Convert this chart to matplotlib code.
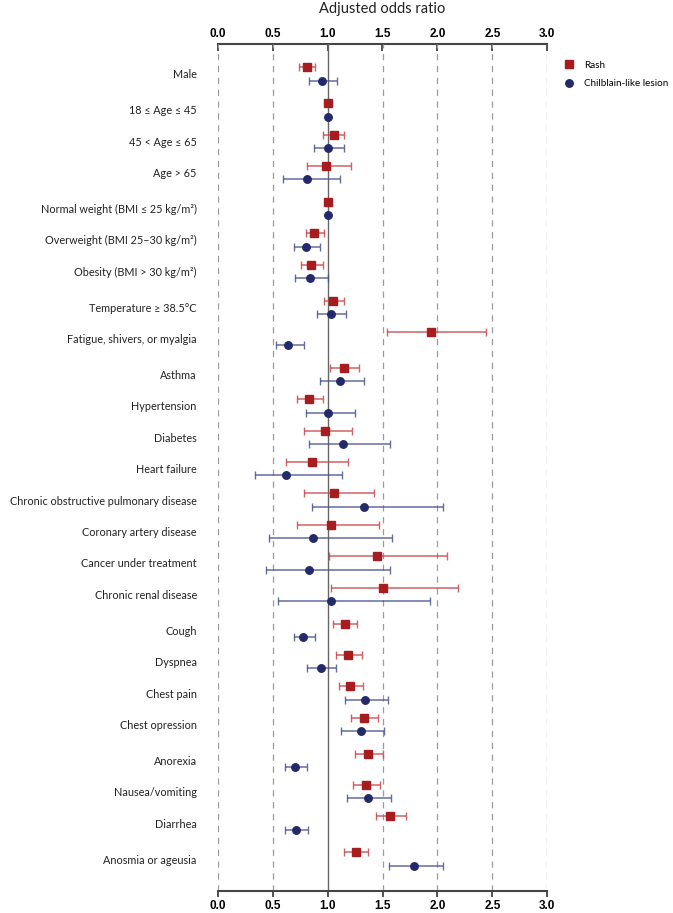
import matplotlib
matplotlib.use("Agg")
import matplotlib.pyplot as plt
from matplotlib.lines import Line2D
import numpy as np

labels = ["Male", "18 ≤ Age ≤ 45", "45 < Age ≤ 65", "Age > 65",
          "Normal weight (BMI ≤ 25 kg/m²)", "Overweight (BMI 25–30 kg/m²)",
          "Obesity (BMI > 30 kg/m²)", "Temperature ≥ 38.5°C",
          "Fatigue, shivers, or myalgia", "Asthma", "Hypertension", "Diabetes",
          "Heart failure", "Chronic obstructive pulmonary disease",
          "Coronary artery disease", "Cancer under treatment",
          "Chronic renal disease", "Cough", "Dyspnea", "Chest pain",
          "Chest opression", "Anorexia", "Nausea/vomiting", "Diarrhea",
          "Anosmia or ageusia"]
groups = [0, 1, 1, 1, 2, 2, 2, 3, 3, 4, 4, 4, 4, 4, 4, 4, 4,
          5, 5, 5, 5, 6, 6, 6, 7]

rash_or = [0.81, 1.0, 1.06, 0.99, 1.0, 0.88, 0.85, 1.05, 1.94, 1.15, 0.83, 0.98,
           0.86, 1.06, 1.03, 1.45, 1.50, 1.16, 1.19, 1.20, 1.33, 1.37, 1.35, 1.57, 1.26]
rash_lo = [0.74, 1.0, 0.96, 0.81, 1.0, 0.80, 0.76, 0.97, 1.54, 1.02, 0.72, 0.79,
           0.62, 0.79, 0.72, 1.01, 1.03, 1.05, 1.08, 1.10, 1.21, 1.25, 1.23, 1.44, 1.15]
rash_hi = [0.89, 1.0, 1.15, 1.21, 1.0, 0.97, 0.96, 1.15, 2.44, 1.29, 0.96, 1.22,
           1.19, 1.42, 1.47, 2.09, 2.19, 1.27, 1.31, 1.32, 1.46, 1.50, 1.48, 1.71, 1.37]

chil_or = [0.95, 1.0, 1.0, 0.81, 1.0, 0.80, 0.84, 1.03, 0.64, 1.11, 1.0, 1.14,
           0.62, 1.33, 0.87, 0.83, 1.03, 0.78, 0.94, 1.34, 1.30, 0.70, 1.37, 0.71, 1.79]
chil_lo = [0.83, 1.0, 0.88, 0.59, 1.0, 0.69, 0.70, 0.90, 0.53, 0.93, 0.80, 0.83,
           0.34, 0.86, 0.47, 0.44, 0.55, 0.69, 0.81, 1.16, 1.12, 0.61, 1.18, 0.61, 1.56]
chil_hi = [1.09, 1.0, 1.15, 1.11, 1.0, 0.93, 1.0, 1.17, 0.79, 1.33, 1.25, 1.57,
           1.13, 2.05, 1.59, 1.57, 1.93, 0.89, 1.08, 1.55, 1.51, 0.81, 1.58, 0.82, 2.05]

xticks = [0.0, 0.5, 1.0, 1.5, 2.0, 2.5, 3.0]

RED = "#a61c1f"
NAVY = "#232a6a"
RED_E = "#c9474a"
NAVY_E = "#4a5390"

fig = plt.figure(figsize=(6.73, 9.13), dpi=100)
ax = fig.add_axes([217.7 / 673, 1 - 891 / 913, (547.3 - 217.7) / 673, (891 - 44) / 913])

# y positions (rows, with extra gap between groups)
gap = 0.143
pos = []
p = 0.0
for i, g in enumerate(groups):
    if i > 0:
        p += 1.0 + (gap if g != groups[i - 1] else 0.0)
    pos.append(p)
pos = np.array(pos)
off = 0.212

r = np.array(rash_or); rl = np.array(rash_lo); rh = np.array(rash_hi)
c = np.array(chil_or); cl = np.array(chil_lo); ch = np.array(chil_hi)

# grid lines
for xt in xticks:
    if xt == 1.0:
        ax.axvline(xt, color="#666666", lw=1.0, zorder=1)
    else:
        ax.axvline(xt, color="#9a9a9a", lw=0.9, ls=(0, (5, 4.5)), zorder=1)

ax.errorbar(r, pos - off, xerr=[r - rl, rh - r], fmt="none", ecolor=RED_E,
            elinewidth=1.1, capsize=2.7, capthick=1.0, alpha=0.85, zorder=2)
ax.errorbar(c, pos + off, xerr=[c - cl, ch - c], fmt="none", ecolor=NAVY_E,
            elinewidth=1.1, capsize=2.7, capthick=1.0, alpha=0.85, zorder=2)
ax.plot(r, pos - off, "s", color=RED, ms=5.2, mec=RED, zorder=3)
ax.plot(c, pos + off, "o", color=NAVY, ms=5.4, mec=NAVY, zorder=3)

ax.set_xlim(0, 3)
ax.set_ylim(pos[-1] + (891 - 859) / 31.4, -30 / 31.4)

ax.set_yticks(pos)
ax.set_yticklabels(labels, fontfamily=["Lato", "DejaVu Sans"], fontsize=7.8, color="#222222")
ax.tick_params(axis="y", length=0, pad=15)

# bottom axis
ax.set_xticks(xticks)
ax.set_xticklabels([f"{v:.1f}" for v in xticks], fontfamily="Liberation Sans",
                   fontweight="bold", fontsize=8.5)
ax.tick_params(axis="x", bottom=True, top=False, direction="out", length=4,
               width=1.2, color="#333333", pad=2.5)

# top axis
sec = ax.secondary_xaxis("top")
sec.set_xticks(xticks)
sec.set_xticklabels([f"{v:.1f}" for v in xticks], fontfamily="Liberation Sans",
                    fontweight="bold", fontsize=8.5)
sec.tick_params(axis="x", direction="in", length=5, width=1.2, color="#333333", pad=3)
sec.spines["top"].set_color("#444444")
sec.spines["top"].set_linewidth(1.5)

for s in ["left", "right", "top"]:
    ax.spines[s].set_visible(False)
ax.spines["bottom"].set_color("#444444")
ax.spines["bottom"].set_linewidth(1.5)

fig.text(382 / 673, 1 - 9 / 913, "Adjusted odds ratio", ha="center", va="center",
         fontsize=10.5, fontfamily="Lato", color="#222222")

handles = [Line2D([], [], marker="s", ls="none", color=RED, ms=5.2),
           Line2D([], [], marker="o", ls="none", color=NAVY, ms=5.4)]
fig.legend(handles, ["Rash", "Chilblain-like lesion"], loc="upper left",
           bbox_to_anchor=(559 / 673, 1 - 57 / 913), frameon=False,
           prop={"family": "Lato", "size": 7.1}, handletextpad=0.9,
           labelspacing=0.95, handlelength=1.2, borderaxespad=0)

fig.savefig("out.png", dpi=100)
